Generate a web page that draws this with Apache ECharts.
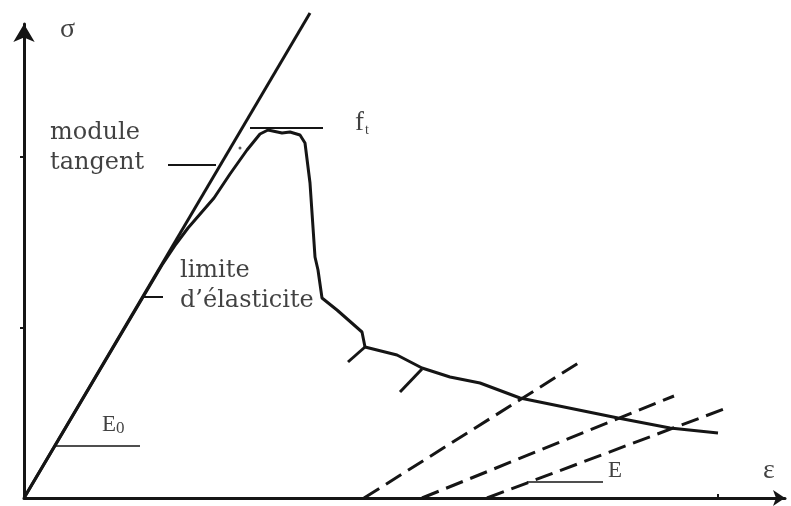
<!DOCTYPE html>
<html>
<head>
<meta charset="utf-8">
<script src="https://cdn.jsdelivr.net/npm/echarts@6/dist/echarts.min.js"></script>
<style>
  html, body { margin: 0; padding: 0; background: #fff; }
  #chart { width: 791px; height: 506px; }
</style>
</head>
<body>
<div id="chart"></div>
<script>
// strain (x) / stress (y), in arbitrary diagram units
const e0_line = [[0, 0], [286, 485]];  // initial modulus E0
const curve = [
    [0, 0], [138, 233], [152, 254], [164, 270], [177, 285], [190, 300],
    [206, 324], [223, 348], [236, 364], [244, 368], [258, 365], [266, 366],
    [276, 363], [281, 355], [286, 315], [291, 241], [294, 228], [298, 200],
    [313, 188], [338, 166], [341, 151], [353, 148], [373, 143], [398, 130],
    [426, 121], [456, 115], [496, 100], [594, 80], [646, 70], [694, 65],
];
const crack_1 = [[341, 151], [324, 136]];
const crack_2 = [[398, 129], [376, 106]];
const speck = [[216, 350]];
// unloading lines, modulus E
const unload_1 = [[340, 0], [556, 136]];
const unload_2 = [[398, 0], [650, 102]];
const unload_3 = [[463, 0], [700, 89]];
// leader lines
const leader_tangent = [[144, 333], [192, 333]];
const leader_limite = [[119, 201], [139, 201]];
const leader_ft = [[226, 370], [299, 370]];
const leader_e0 = [[31, 52], [116, 52]];
const leader_e = [[503, 16], [579, 16]];
const y_ticks = [170, 341];
const x_ticks = [694];
const labels = [
    {name: 'σ', value: [36, 468], big: true},
    {name: 'module', value: [26, 365]},
    {name: 'tangent', value: [26, 335]},
    {name: 'limite', value: [156, 227]},
    {name: 'd\u2019élasticite', value: [156, 197]},
    {name: '{m|f}{s|t}', value: [331, 375]},
    {name: '{e|E}{z|0}', value: [78, 73]},
    {name: '{e|E}', value: [584, 27]},
    {name: 'ε', value: [739, 27], big: true},
];

const ink = '#151515';
const text_ink = '#111';

function line_series(data, width, type) {
    return {
        type: 'line',
        data: data,
        showSymbol: false,
        symbol: 'none',
        clip: false,
        silent: true,
        lineStyle: {color: ink, width: width, type: type || 'solid'},
    };
}

const chart = echarts.init(document.getElementById('chart'));
chart.setOption({
    animation: false,
    backgroundColor: '#fff',
    grid: {left: 24, right: 6, top: 24, bottom: 8},
    xAxis: {
        type: 'value',
        min: 0,
        max: 761,
        splitLine: {show: false},
        axisLabel: {show: false},
        axisLine: {
            show: true,
            symbol: ['none', 'arrow'],
            symbolSize: [12, 12],
            lineStyle: {color: ink, width: 3},
        },
        axisTick: {show: true, customValues: x_ticks, length: 4, inside: true,
            lineStyle: {color: ink, width: 2}},
    },
    yAxis: {
        type: 'value',
        min: 0,
        max: 474,
        splitLine: {show: false},
        axisLabel: {show: false},
        axisLine: {
            show: true,
            symbol: ['none', 'arrow'],
            symbolSize: [16, 18],
            lineStyle: {color: ink, width: 3},
        },
        axisTick: {show: true, customValues: y_ticks, length: 4,
            lineStyle: {color: ink, width: 2}},
    },
    series: [
        line_series(e0_line, 3),
        line_series(curve, 3),
        line_series(crack_1, 3),
        line_series(crack_2, 3),
        line_series(unload_1, 3, [18, 8]),
        line_series(unload_2, 3, [18, 8]),
        line_series(unload_3, 3, [18, 8]),
        line_series(leader_tangent, 2),
        line_series(leader_limite, 2),
        line_series(leader_ft, 2),
        line_series(leader_e0, 1.5),
        line_series(leader_e, 1.5),
        {
            type: 'scatter',
            symbol: 'circle',
            symbolSize: 3,
            silent: true,
            itemStyle: {color: '#333'},
            data: speck,
        },
        {
            type: 'scatter',
            symbol: 'circle',
            symbolSize: 1,
            silent: true,
            clip: false,
            itemStyle: {color: 'rgba(0,0,0,0)'},
            data: labels.map(d => ({
                name: d.name,
                value: d.value,
                label: d.big ? {fontFamily: 'Liberation Serif', fontSize: 28} : {},
            })),
            label: {
                show: true,
                position: 'inside',
                align: 'left',
                verticalAlign: 'middle',
                formatter: '{b}',
                color: text_ink,
                fontFamily: 'DejaVu Serif',
                fontSize: 24,
                rich: {
                    m: {fontFamily: 'Liberation Serif', fontSize: 27, color: text_ink},
                    s: {fontFamily: 'Liberation Serif', fontSize: 14, color: text_ink, padding: [14, 0, 0, 1]},
                    e: {fontFamily: 'Liberation Serif', fontSize: 23, color: text_ink},
                    z: {fontFamily: 'Liberation Serif', fontSize: 17, color: text_ink, padding: [8, 0, 0, 0]},
                },
            },
        },
    ],
});
</script>
</body>
</html>
